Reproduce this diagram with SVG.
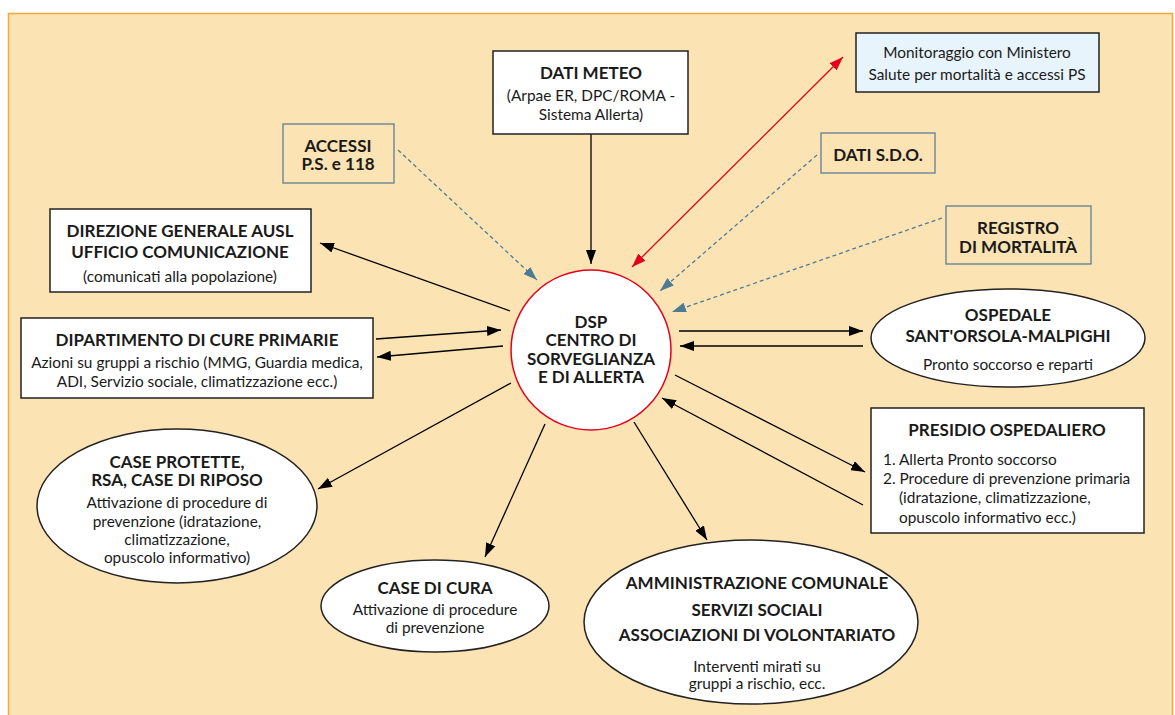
<svg xmlns="http://www.w3.org/2000/svg" width="1175" height="715" viewBox="0 0 1175 715">
<defs>
<style>
.t{font-family:Lato,"Liberation Sans",sans-serif;fill:#1a1a1a;text-anchor:middle}
.b{font-weight:700;font-size:17px}
.r{font-size:15.4px}
.s{text-anchor:start}
.box{fill:#fff;stroke:#222;stroke-width:1.5}
.dbox{fill:#FBE3B3;stroke:#5B7E95;stroke-width:1.3}
.ln{stroke:#000;stroke-width:1.3;fill:none}
.dash{stroke:#4F7A96;stroke-width:1.3;stroke-dasharray:4 3;fill:none}
.red{stroke:#E3001B;stroke-width:1.3;fill:none}
</style>
<marker id="ah" viewBox="0 0 14 10" refX="14" refY="5" markerWidth="14" markerHeight="10" markerUnits="userSpaceOnUse" orient="auto"><path d="M0,0 L14,5 L0,10 z" fill="#000"/></marker>
<marker id="ahb" viewBox="0 0 14 10" refX="14" refY="5" markerWidth="14" markerHeight="10" markerUnits="userSpaceOnUse" orient="auto"><path d="M0,0 L14,5 L0,10 z" fill="#4F7A96"/></marker>
<marker id="ahr" viewBox="0 0 14 10" refX="14" refY="5" markerWidth="14" markerHeight="10" markerUnits="userSpaceOnUse" orient="auto-start-reverse"><path d="M0,0 L14,5 L0,10 z" fill="#E3001B"/></marker>
</defs>
<rect x="0" y="0" width="1175" height="715" fill="#fff"/>
<rect x="8.5" y="13.5" width="1164" height="720" fill="#FBE3B3" stroke="#F2A93B" stroke-width="1.5"/>

<g id="connectors">
<line class="ln" x1="591" y1="134" x2="591" y2="264" marker-end="url(#ah)"/>
<line class="dash" x1="398" y1="150" x2="537" y2="280" marker-end="url(#ahb)"/>
<line class="red" x1="632" y1="267" x2="843" y2="57" marker-start="url(#ahr)" marker-end="url(#ahr)"/>
<line class="dash" x1="817" y1="155" x2="660" y2="291" marker-end="url(#ahb)"/>
<line class="dash" x1="942" y1="218" x2="672" y2="312" marker-end="url(#ahb)"/>
<line class="ln" x1="510" y1="311" x2="320" y2="243" marker-end="url(#ah)"/>
<line class="ln" x1="376" y1="339" x2="501" y2="330" marker-end="url(#ah)"/>
<line class="ln" x1="503" y1="346" x2="377" y2="357" marker-end="url(#ah)"/>
<line class="ln" x1="679" y1="331" x2="863" y2="331" marker-end="url(#ah)"/>
<line class="ln" x1="863" y1="346" x2="680" y2="346" marker-end="url(#ah)" stroke="#3a3a2a"/>
<line class="ln" x1="675" y1="375" x2="865" y2="472" marker-end="url(#ah)"/>
<line class="ln" x1="863" y1="505" x2="662" y2="398" marker-end="url(#ah)"/>
<line class="ln" x1="511" y1="383" x2="318" y2="489" marker-end="url(#ah)"/>
<line class="ln" x1="545" y1="424" x2="485" y2="557" marker-end="url(#ah)"/>
<line class="ln" x1="634" y1="422" x2="707" y2="540" marker-end="url(#ah)"/>
</g>

<g id="dsp">
<circle cx="591" cy="350" r="80" fill="#fff" stroke="#E3001B" stroke-width="1.5"/>
<text class="t b" x="591" y="328" font-size="18">DSP</text>
<text class="t b" x="591" y="346" font-size="18">CENTRO DI</text>
<text class="t b" x="591" y="365" font-size="18">SORVEGLIANZA</text>
<text class="t b" x="591" y="383" font-size="18">E DI ALLERTA</text>
</g>

<g id="meteo">
<rect class="box" x="493" y="51" width="195" height="83"/>
<text class="t b" x="591" y="79">DATI METEO</text>
<text class="t r" x="591" y="101">(Arpae ER, DPC/ROMA -</text>
<text class="t r" x="591" y="120">Sistema Allerta)</text>
</g>

<g id="accessi">
<rect class="dbox" x="283" y="124" width="111" height="59"/>
<text class="t b" x="338" y="152" font-size="18">ACCESSI</text>
<text class="t b" x="338" y="170" font-size="18">P.S. e 118</text>
</g>

<g id="monitoraggio">
<rect x="856" y="33" width="243" height="59" fill="#E8F4FB" stroke="#222" stroke-width="1.5"/>
<text class="t r" x="977" y="58">Monitoraggio con Ministero</text>
<text class="t r" x="977" y="80">Salute per mortalità e accessi PS</text>
</g>

<g id="sdo">
<rect class="dbox" x="821" y="133" width="114" height="40"/>
<text class="t b" x="878" y="161">DATI S.D.O.</text>
</g>

<g id="registro">
<rect class="dbox" x="946" y="206" width="145" height="58"/>
<text class="t b" x="1018" y="234">REGISTRO</text>
<text class="t b" x="1018" y="253">DI MORTALITÀ</text>
</g>

<g id="direzione">
<rect class="box" x="50" y="209" width="261" height="83"/>
<text class="t b" x="180" y="237" font-size="17.5">DIREZIONE GENERALE AUSL</text>
<text class="t b" x="180" y="258" font-size="17.5">UFFICIO COMUNICAZIONE</text>
<text class="t r" x="180" y="282">(comunicati alla popolazione)</text>
</g>

<g id="dipartimento">
<rect class="box" x="21" y="318" width="352" height="80"/>
<text class="t b" x="197" y="346">DIPARTIMENTO DI CURE PRIMARIE</text>
<text class="t r" x="197" y="368">Azioni su gruppi a rischio (MMG, Guardia medica,</text>
<text class="t r" x="197" y="387">ADI, Servizio sociale, climatizzazione ecc.)</text>
</g>

<g id="ospedale">
<ellipse cx="1008" cy="338" rx="137" ry="49" fill="#fff" stroke="#222" stroke-width="1.5"/>
<text class="t b" x="1008" y="321">OSPEDALE</text>
<text class="t b" x="1008" y="342">SANT'ORSOLA-MALPIGHI</text>
<text class="t r" x="1008" y="370">Pronto soccorso e reparti</text>
</g>

<g id="presidio">
<rect class="box" x="871" y="408" width="273" height="125"/>
<text class="t b" x="1007" y="436">PRESIDIO OSPEDALIERO</text>
<text class="t r s" x="883" y="465">1. Allerta Pronto soccorso</text>
<text class="t r s" x="883" y="484">2. Procedure di prevenzione primaria</text>
<text class="t r s" x="899" y="503">(idratazione, climatizzazione,</text>
<text class="t r s" x="899" y="523">opuscolo informativo ecc.)</text>
</g>

<g id="caseprotette">
<ellipse cx="177" cy="506" rx="140" ry="77" fill="#fff" stroke="#222" stroke-width="1.5"/>
<text class="t b" x="177" y="468">CASE PROTETTE,</text>
<text class="t b" x="177" y="486">RSA, CASE DI RIPOSO</text>
<text class="t r" x="177" y="508">Attivazione di procedure di</text>
<text class="t r" x="177" y="527">prevenzione (idratazione,</text>
<text class="t r" x="177" y="545">climatizzazione,</text>
<text class="t r" x="177" y="563">opuscolo informativo)</text>
</g>

<g id="casedicura">
<ellipse cx="435" cy="606" rx="114" ry="46" fill="#fff" stroke="#222" stroke-width="1.5"/>
<text class="t b" x="435" y="594">CASE DI CURA</text>
<text class="t r" x="435" y="615">Attivazione di procedure</text>
<text class="t r" x="435" y="633">di prevenzione</text>
</g>

<g id="amministrazione">
<ellipse cx="751" cy="622" rx="167" ry="82" fill="#fff" stroke="#222" stroke-width="1.5"/>
<text class="t b" x="757" y="589">AMMINISTRAZIONE COMUNALE</text>
<text class="t b" x="757" y="616">SERVIZI SOCIALI</text>
<text class="t b" x="757" y="641">ASSOCIAZIONI DI VOLONTARIATO</text>
<text class="t r" x="757" y="672">Interventi mirati su</text>
<text class="t r" x="757" y="689">gruppi a rischio, ecc.</text>
</g>
</svg>
